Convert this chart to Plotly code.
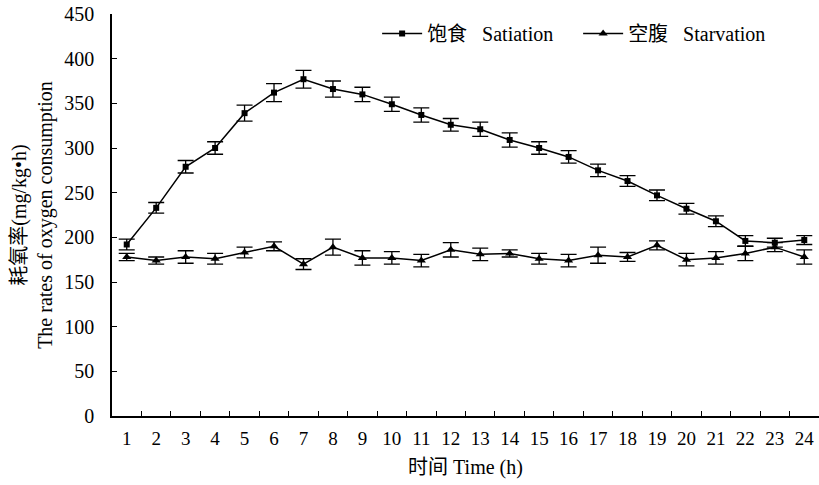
import plotly.graph_objects as go

hours = [str(i) for i in range(1, 25)]
satiation = [192, 233, 279, 300, 339, 362, 377, 366, 360, 349, 337, 326, 321, 309, 300, 290, 275, 263, 247, 232, 218, 196, 194, 197]
satiation_err = [6, 6, 7, 7, 9, 10, 10, 9, 8, 8, 8, 7, 8, 8, 7, 7, 7, 6, 6, 6, 6, 6, 5, 5]
starvation = [178, 174, 178, 176, 183, 190, 170, 189, 177, 177, 174, 186, 181, 182, 176, 174, 180, 178, 191, 175, 177, 182, 189, 178]
starvation_err = [4, 4, 7, 6, 6, 5, 6, 9, 8, 7, 7, 8, 7, 4, 6, 7, 9, 5, 5, 7, 7, 8, 5, 8]
y_ticks = [0, 50, 100, 150, 200, 250, 300, 350, 400, 450]

font = "Liberation Serif, Times New Roman, Noto Sans CJK SC, serif"
sp = "\u00a0\u00a0\u00a0"

fig = go.Figure()
fig.add_trace(go.Scatter(
    x=hours, y=satiation, name="饱食" + sp + "Satiation", mode="lines+markers",
    line=dict(color="black", width=1.5),
    marker=dict(symbol="square", size=6, color="black"),
    error_y=dict(type="data", array=satiation_err, color="black", thickness=1.3, width=8),
))
fig.add_trace(go.Scatter(
    x=hours, y=starvation, name="空腹" + sp + "Starvation", mode="lines+markers",
    line=dict(color="black", width=1.5),
    marker=dict(symbol="triangle-up", size=8, color="black"),
    error_y=dict(type="data", array=starvation_err, color="black", thickness=1.3, width=8),
))

fig.update_layout(
    width=819, height=485,
    margin=dict(l=112, r=0, t=14, b=69, autoexpand=False),
    paper_bgcolor="white", plot_bgcolor="white",
    font=dict(family=font, size=20, color="black"),
    showlegend=True,
    legend=dict(orientation="h", x=0.375, y=1.0, xanchor="left", yanchor="top",
                font=dict(size=20), bgcolor="rgba(0,0,0,0)", itemwidth=40,
                entrywidth=146, entrywidthmode="pixels"),
    xaxis=dict(
        type="category", range=[-0.5, 23.5],
        tickson="boundaries", ticks="inside", ticklen=5, tickcolor="black",
        showline=True, linecolor="black", linewidth=1.5,
        showgrid=False, zeroline=False,
        title=dict(text="时间 Time (h)", font=dict(size=20), standoff=12),
        tickfont=dict(size=19), ticklabelstandoff=4,
    ),
    yaxis=dict(
        range=[0, 450], tickvals=y_ticks,
        ticks="inside", ticklen=5, tickcolor="black",
        showline=True, linecolor="black", linewidth=1.5,
        showgrid=False, zeroline=False,
        title=dict(text="耗氧率(mg/kg•h)<br>The rates of oxygen consumption", font=dict(size=20), standoff=6),
        tickfont=dict(size=20), ticklabelstandoff=12, ticklabeloverflow="allow",
    ),
)

fig.write_html("out.html", config={"displayModeBar": False},
               post_script="document.body.style.margin='0px';")
